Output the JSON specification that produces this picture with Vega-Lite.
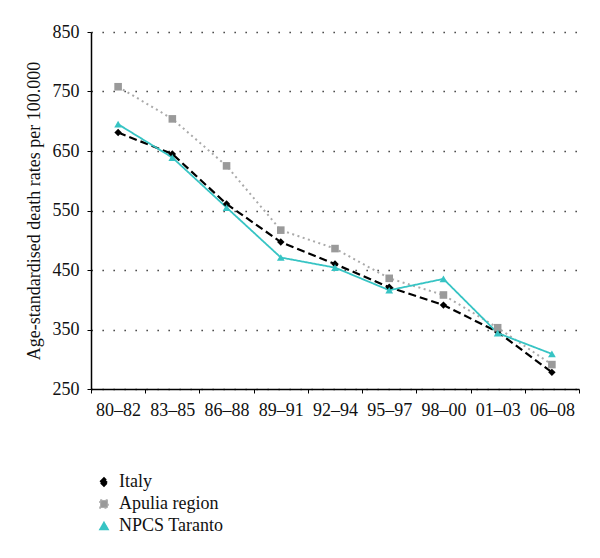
{
  "$schema": "https://vega.github.io/schema/vega-lite/v6.json",
  "width": 488,
  "height": 357,
  "autosize": "none",
  "padding": {"left": 91, "top": 32, "right": 21, "bottom": 169},
  "background": "white",
  "config": {
    "view": {"stroke": null},
    "font": "Liberation Serif"
  },
  "data": {
    "values": [
      {"period": "80–82", "series": "Italy", "rate": 681},
      {"period": "83–85", "series": "Italy", "rate": 645},
      {"period": "86–88", "series": "Italy", "rate": 561},
      {"period": "89–91", "series": "Italy", "rate": 497},
      {"period": "92–94", "series": "Italy", "rate": 460},
      {"period": "95–97", "series": "Italy", "rate": 421},
      {"period": "98–00", "series": "Italy", "rate": 391},
      {"period": "01–03", "series": "Italy", "rate": 346},
      {"period": "06–08", "series": "Italy", "rate": 278},
      {"period": "80–82", "series": "Apulia region", "rate": 758},
      {"period": "83–85", "series": "Apulia region", "rate": 704},
      {"period": "86–88", "series": "Apulia region", "rate": 625},
      {"period": "89–91", "series": "Apulia region", "rate": 517},
      {"period": "92–94", "series": "Apulia region", "rate": 486},
      {"period": "95–97", "series": "Apulia region", "rate": 436},
      {"period": "98–00", "series": "Apulia region", "rate": 408},
      {"period": "01–03", "series": "Apulia region", "rate": 353},
      {"period": "06–08", "series": "Apulia region", "rate": 291},
      {"period": "80–82", "series": "NPCS Taranto", "rate": 695},
      {"period": "83–85", "series": "NPCS Taranto", "rate": 639},
      {"period": "86–88", "series": "NPCS Taranto", "rate": 555},
      {"period": "89–91", "series": "NPCS Taranto", "rate": 471},
      {"period": "92–94", "series": "NPCS Taranto", "rate": 454},
      {"period": "95–97", "series": "NPCS Taranto", "rate": 416},
      {"period": "98–00", "series": "NPCS Taranto", "rate": 435},
      {"period": "01–03", "series": "NPCS Taranto", "rate": 344},
      {"period": "06–08", "series": "NPCS Taranto", "rate": 309}
    ]
  },
  "encoding": {
    "x": {
      "field": "period",
      "type": "nominal",
      "sort": null,
      "bandPosition": 0.5,
      "scale": {"type": "band", "paddingInner": 0, "paddingOuter": 0},
      "axis": {
        "title": null,
        "labelAngle": 0,
        "labelFontSize": 18,
        "labelColor": "#111",
        "labelPadding": 8,
        "tickBand": "extent",
        "tickColor": "#000",
        "tickSize": 4,
        "domainColor": "#000",
        "domainWidth": 1.5,
        "grid": false
      }
    },
    "y": {
      "field": "rate",
      "type": "quantitative",
      "scale": {"domain": [250, 850], "nice": false, "zero": false},
      "axis": {
        "title": "Age-standardised death rates per 100.000",
        "titleFontSize": 18,
        "titleFontWeight": "normal",
        "titleColor": "#111",
        "titlePadding": 9,
        "values": [250, 350, 450, 550, 650, 750, 850],
        "labelFontSize": 18,
        "labelColor": "#111",
        "labelPadding": 8,
        "tickSize": 4,
        "tickColor": "#000",
        "domainColor": "#000",
        "domainWidth": 1.5,
        "grid": true,
        "gridColor": "#222",
        "gridWidth": 1.3,
        "gridDash": [1.3, 9.7]
      }
    }
  },
  "layer": [
    {
      "mark": {"type": "line"},
      "encoding": {
        "stroke": {
          "field": "series",
          "type": "nominal",
          "sort": ["Italy", "Apulia region", "NPCS Taranto"],
          "scale": {"domain": ["Italy", "Apulia region", "NPCS Taranto"], "range": ["#000000", "#aaaaaa", "#37c4c4"]},
          "legend": {
            "orient": "none",
            "legendX": 4,
            "legendY": 441,
            "title": null,
            "labelFontSize": 18,
            "labelColor": "#111",
            "labelOffset": 6,
            "rowPadding": 4,
            "symbolSize": 70,
            "symbolStrokeWidth": 1.5
          }
        },
        "strokeDash": {
          "field": "series",
          "type": "nominal",
          "scale": {"domain": ["Italy", "Apulia region", "NPCS Taranto"], "range": [[8, 4], [2, 3.5], [1, 0]]},
          "legend": null
        },
        "strokeWidth": {
          "field": "series",
          "type": "nominal",
          "scale": {"domain": ["Italy", "Apulia region", "NPCS Taranto"], "range": [2.2, 1.8, 1.4]},
          "legend": null
        }
      }
    },
    {
      "mark": {"type": "point", "filled": true, "opacity": 1},
      "encoding": {
        "fill": {
          "field": "series",
          "type": "nominal",
          "scale": {"domain": ["Italy", "Apulia region", "NPCS Taranto"], "range": ["#000000", "#9a9a9a", "#37c4c4"]},
          "legend": null
        },
        "shape": {
          "field": "series",
          "type": "nominal",
          "scale": {"domain": ["Italy", "Apulia region", "NPCS Taranto"], "range": ["diamond", "square", "triangle-up"]},
          "legend": null
        },
        "size": {
          "field": "series",
          "type": "nominal",
          "scale": {"domain": ["Italy", "Apulia region", "NPCS Taranto"], "range": [55, 60, 75]},
          "legend": null
        }
      }
    }
  ]
}
